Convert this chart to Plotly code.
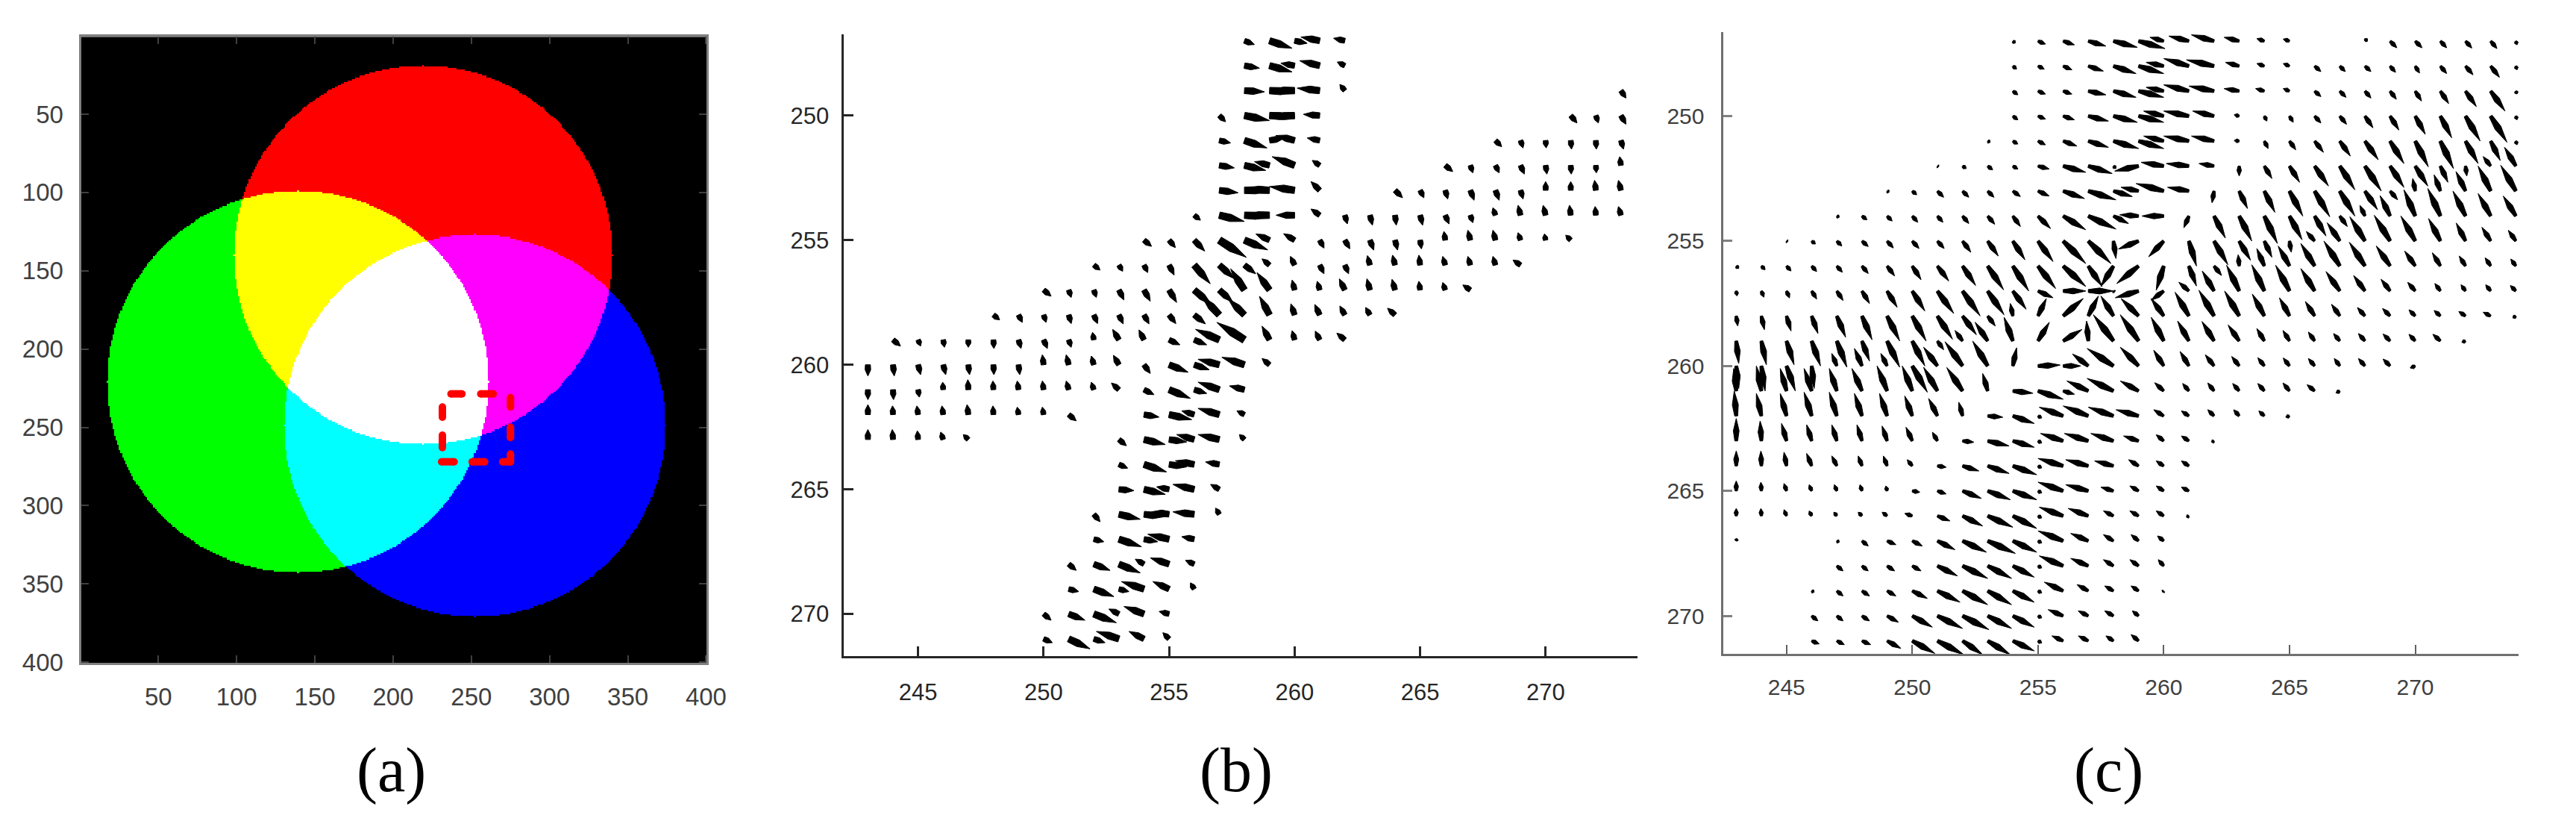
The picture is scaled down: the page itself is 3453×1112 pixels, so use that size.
import numpy as np
import plotly.graph_objects as go

W, H = 3453, 1112

# panel (a): three discs on a 400x400 image, (col, row, radius)
red_disc = [219, 140, 121]
green_disc = [139, 221, 122]
blue_disc = [252, 249, 122]
a_ticks = [50, 100, 150, 200, 250, 300, 350, 400]

# dashed red box of panel (a), one [x0, y0, x1, y1] per dash
box_dashes = [
    [237, 228.6, 244, 228.6], [256, 228.6, 264, 228.6],
    [231, 272, 239, 272], [250.5, 272, 258.5, 272], [270, 272, 275, 272],
    [231.5, 237, 231.5, 243.5], [231.5, 255, 231.5, 263],
    [275, 231, 275, 237], [275, 250, 275, 256.5], [275, 267, 275, 272],
]

# panel (b): row y, first column, then (u, v) per column
b_y = [247, 248, 249, 249, 250, 250, 251, 251, 252, 252, 253, 253, 254, 255, 256, 257, 258, 259, 260, 261,
       262, 262, 263, 263, 264, 265, 266, 267, 268, 269, 270, 271]
b_x0 = [258, 258, 258, 273, 257, 271, 257, 268, 257, 266, 257, 264, 256, 254, 252, 250, 248, 244, 243, 243,
        243, 254, 243, 253, 253, 253, 252, 252, 251, 251, 250, 250]
b_uv = [
    [(.4, .15), (.9, .3), (.5, .1), (-.75, -.15), (-.45, -.1)],
    [(.6, .1), (.9, .25), (-.55, -.1), (-.8, -.2), (-.3, -.15)],
    [(.8, .05), (1, .05), (-1, 0), (-.9, -.1), (-.2, -.25)],
    [(.2, .3)],
    [(.25, .25), (1, .2), (1, .05), (-1, .05), (-.65, -.05)],
    [(.25, .3), (.1, .3), (.2, .35)],
    [(.45, .1), (.9, .3), (.6, -.1), (-.75, -.2), (-.5, -.1)],
    [(.25, .25), (.1, .3), (.02, .3), (.03, .35), (.02, .35), (.1, .35)],
    [(.6, .1), (.85, .2), (-.6, -.15), (-.9, -.35), (-.3, -.2)],
    [(.3, .25), (.1, .3), (.15, .3), (.15, .35), (.05, .35), (.02, .35), (.02, .3), (-.05, -.35)],
    [(.75, .1), (1, 0), (-1, -.05), (-1, -.15), (-.35, -.35)],
    [(.3, .3), (.15, .3), (.1, .35), (.15, .4), (.15, .4), (.1, .35), (0, -.35), (0, -.35), (-.05, -.4), (-.1, -.4)],
    [(.25, .2), (1, .25), (1, .05), (-1, 0), (-.74, 0), (-.35, -.25), (.1, .35), (.1, .4), (.05, .4), (.1, .4),
     (.15, .35), (.1, .3), (-.1, -.3), (-.1, -.4), (-.1, -.4), (-.05, -.4), (-.03, -.35), (-.1, -.35)],
    [(.3, .25), (.25, .3), (.42, .44), (1.08, .69), (.93, .39), (-.55, -.25), (-.44, -.26), (.17, .32), (.2, .35),
     (.15, .4), (.1, .4), (.05, .35), (-.05, -.35), (-.1, -.4), (-.1, -.4), (-.1, -.3), (-.05, -.25), (-.2, -.2)],
    [(.25, .2), (.15, .25), (.15, .3), (.2, .4), (.64, .75), (.6, .55), (.45, .35), (-.3, -.25), (-.17, -.35),
     (.17, .35), (.15, .35), (-.1, -.38), (-.1, -.4), (-.05, -.4), (-.1, -.35), (-.1, -.35), (-.1, -.35), (-.3, -.2)],
    [(.3, .25), (.1, .3), (.1, .3), (.2, .4), (.25, .45), (.3, .5), (.7, .6), (.55, .5), (-.55, -.85), (-.5, -.7),
     (-.1, -.4), (-.1, -.35), (-.22, -.45), (-.12, -.45), (-.12, -.43), (-.05, -.35), (-.1, -.3), (-.3, -.2)],
    [(.25, .2), (.15, .3), (.1, .3), (.1, .35), (.15, .35), (.17, .36), (.2, .36), (.27, .35), (.45, .36), (-.7, -.75),
     (-.65, -.65), (-.4, -.75), (-.15, -.45), (-.2, -.42), (-.2, -.36), (-.17, -.3), (-.3, -.27)],
    [(.3, .25), (.1, .25), (.05, .3), (0, .3), (.02, .35), (.1, .35), (.15, .35), (.1, .3), (-.05, -.3), (-.25, -.42),
     (-.2, -.4), (.43, .2), (.5, .2), (-.95, -.42), (-1.1, -.7), (-.3, -.55), (-.1, -.37), (-.18, -.35), (-.32, -.27)],
    [(0, .45), (.05, .45), (.1, .4), (.1, .4), (.05, .4), (.02, .4), (.05, .4), (-.05, -.4), (-.1, -.4), (-.1, -.35),
     (-.22, -.38), (.25, .35), (.76, .3), (.6, .2), (-.85, -.22), (-.9, -.3), (-.3, -.25)],
    [(0, .4), (.02, .4), (.05, .3), (-.02, -.3), (-.02, -.4), (-.02, -.35), (-.05, -.35), (-.05, -.35), (-.1, -.35),
     (-.1, -.3), (-.3, -.27), (.4, .2), (.85, .35), (.5, .15), (-.85, -.3), (-.6, -.15)],
    [(0, -.4), (-.02, -.35), (-.05, -.35), (-.05, -.35), (-.05, -.4), (-.02, -.35), (-.05, -.3), (-.05, -.3), (.3, .25)],
    [(.6, .1), (.9, .2), (-.5, -.15), (-.85, -.25), (-.3, -.15)],
    [(0, -.4), (-.03, -.4), (-.03, -.35), (-.1, -.3), (-.2, -.2)],
    [(.3, .25), (.85, .2), (.7, .1), (-.7, -.2), (-.85, -.2), (-.2, -.2)],
    [(.35, .15), (.9, .3), (.7, .1), (-.75, -.15), (-.55, -.1)],
    [(.6, .05), (.85, .2), (-.5, -.1), (-.85, -.2), (-.35, -.2)],
    [(.25, .3), (.85, .2), (.8, .1), (-.7, -.1), (-.85, -.1), (-.15, -.25)],
    [(.4, .1), (.9, .3), (.55, .1), (-.85, -.2), (-.5, -.1)],
    [(.3, .25), (.65, .25), (.85, .35), (-.35, -.2), (-.75, -.25), (-.35, -.15)],
    [(.4, .1), (.8, .3), (.4, .1), (-.9, -.3), (-.65, -.3), (-.15, -.25)],
    [(.3, .25), (.65, .25), (.9, .35), (-.4, -.2), (-.8, -.3), (-.4, -.1)],
    [(.35, .15), (.85, .4), (.45, .15), (-.9, -.3), (-.6, -.3), (-.25, -.25)],
]

# panel (c): same layout as (b)
c_y = [247, 247, 248, 249, 250, 251, 252, 253, 254, 255, 256, 257, 258, 259, 260, 261, 262, 263, 264, 265, 266,
       267, 267, 268, 269, 270, 271]
c_x0 = [254, 268, 254, 254, 254, 253, 251, 249, 247, 245, 243, 243, 243, 243, 243, 243, 243, 243, 243, 243, 243,
        243, 247, 247, 246, 246, 246]
c_uv = [
    [(.1, .08), (.3, .12), (.45, .15), (.7, .2), (.95, .25), (1.05, .3), (-.55, -.15), (-.8, -.2), (-.9, -.25),
     (-.6, -.15), (-.3, -.1), (-.25, -.08)],
    [(.1, -.1), (.27, .27), (.27, .27), (.25, .27), (.25, .28), (.25, .3), (.05, .15)],
    [(.15, .12), (.25, .12), (.35, .15), (.6, .2), (.9, .3), (1, .3), (-.7, -.15), (-1, -.3), (-1.1, -.25), (-.55, -.15),
     (-.3, -.1), (-.25, -.1), (.25, .22), (.22, .22), (.24, .22), (.22, .25), (.17, .28), (.25, .3), (.3, .35),
     (.35, .45), (.05, .15)],
    [(.2, .15), (.3, .12), (.35, .12), (.7, .15), (.9, .25), (1, .25), (-.7, -.15), (-1, -.25), (-1, -.2), (-.6, -.1),
     (-.35, -.1), (-.25, -.1), (.25, .22), (.25, .25), (.24, .28), (.25, .33), (.25, .4), (.33, .5), (.43, .62),
     (.57, .8), (.05, .12)],
    [(.2, .15), (.3, .12), (.45, .15), (.8, .2), (.95, .25), (1, .25), (-.8, -.2), (-1, -.2), (-.85, -.2), (-.2, -.05),
     (.1, .2), (.15, .25), (.25, .28), (.27, .33), (.32, .47), (.35, .56), (.4, .73), (.45, .87), (.58, 1), (.65, 1.05),
     (.05, .15)],
    [(.1, .05), (.2, .12), (.3, .15), (.55, .2), (.8, .25), (1, .3), (1, .3), (-.8, -.2), (-1, -.2), (-.9, -.2),
     (-.2, -.02), (.15, .3), (.25, .35), (.35, .45), (.42, .6), (.53, .75), (.55, .9), (.52, 1.03), (.52, 1.1),
     (.5, .9), (.38, .78), (.05, .15)],
    [(.05, .03), (.15, .1), (.2, .15), (.2, .12), (.45, .12), (.9, .25), (.95, .3), (.1, .1), (-.95, .2), (-.9, -.15),
     (-.9, -.1), (-.6, -.1), (0, .4), (.3, .5), (.4, .65), (.55, .8), (.6, .95), (.65, 1), (.55, .85), (.5, .8),
     (.3, .65), (.05, .4), (-.3, -.38), (-.45, -.75)],
    [(.08, .05), (.18, .15), (.25, .25), (.25, .25), (.25, .25), (.3, .22), (.45, .2), (.85, .3), (1.1, .35), (.75, .22),
     (-.7, -.15), (-1.1, -.3), (-.85, -.15), (-.08, .47), (.33, .7), (.42, .85), (.53, 1), (.6, 1.03), (.6, 1), (.5, .75),
     (.3, .35), (-.1, -.5), (-.25, -.65), (-.38, -.78), (-.5, -1), (-.6, -1.03)],
    [(.1, .05), (.2, .15), (.2, .2), (.22, .25), (.22, .25), (.25, .3), (.28, .33), (.3, .42), (.5, .5), (.9, .55),
     (1.1, .52), (.6, .3), (-.75, -.05), (-.87, 0), (-.2, .47), (.45, .88), (.5, 1), (.52, 1.1), (.5, .95), (.45, .8),
     (.3, .42), (-.2, -.43), (-.4, -.82), (-.45, -1.05), (-.5, -1.1), (-.5, -1), (-.5, -.9), (-.5, -.8)],
    [(.05, .03), (.15, .12), (.2, .2), (.25, .22), (.25, .28), (.27, .3), (.27, .3), (.33, .45), (.42, .6), (.48, .75),
     (.6, .82), (.9, .9), (.9, .9), (.1, .7), (-.8, .32), (-.6, .63), (.3, 1), (.55, .95), (.45, .77), (.3, .65),
     (.07, .45), (-.33, -.38), (-.5, -.73), (-.6, -.97), (-.63, -1.03), (-.57, -1), (-.47, -.9), (-.37, -.72),
     (-.35, -.55), (-.3, -.43)],
    [(.1, .1), (.15, .15), (.18, .2), (.2, .22), (.22, .25), (.25, .3), (.3, .4), (.35, .55), (.45, .6), (.52, .78),
     (.63, .95), (.63, 1), (.7, .9), (.9, .82), (.55, .82), (-.5, .82), (-.87, .7), (-.3, .97), (.3, .8), (.3, .38),
     (-.04, -.45), (-.3, -.7), (-.45, -.8), (-.55, -.9), (-.63, -1), (-.62, -.95), (-.55, -.8), (-.42, -.6), (-.32, -.53),
     (-.25, -.4), (-.22, -.33), (-.2, -.28)],
    [(.03, .2), (.1, .25), (.12, .28), (.2, .32), (.25, .38), (.3, .5), (.4, .65), (.5, .8), (.65, .9), (.7, 1), (.65, .95),
     (.53, .73), (.6, .27), (.9, 0), (1, 0), (.05, .05), (-.93, .27), (-.5, .37), (-.4, -.35), (-.47, -.8), (-.5, -1.03),
     (-.5, -1.05), (-.55, -1.03), (-.55, -.9), (-.55, -.78), (-.45, -.62), (-.36, -.47), (-.3, -.35), (-.22, -.3),
     (-.18, -.25), (-.2, -.25), (-.22, -.22)],
    [(.06, .4), (.12, .55), (.18, .6), (.25, .7), (.35, .85), (.4, .95), (.5, 1), (.55, 1), (.6, .93), (.55, .75), (.3, .4),
     (-.1, -.5), (.33, -.7), (.8, -.7), (.4, -.8), (-.5, -.8), (-.7, -.7), (-.5, -.7), (-.55, -.95), (-.6, -1.03),
     (-.58, -1), (-.48, -.88), (-.4, -.73), (-.37, -.58), (-.33, -.47), (-.3, -.34), (-.3, -.3), (-.25, -.25), (-.25, -.22),
     (-.27, -.18), (-.3, -.15), (-.12, .08)],
    [(.1, .9), (.2, .95), (.3, .95), (.35, 1), (.4, 1.05), (.3, .8), (.5, 1.05), (.5, 1), (.25, .35), (-.3, -.42), (-.5, -.75),
     (-.35, -.95), (.45, -.75), (.75, -.46), (-.07, -.8), (-.8, -1.05), (-.73, -1.05), (-.5, -.95), (-.45, -.8), (-.48, -.78),
     (-.44, -.64), (-.3, -.5), (-.26, -.42), (-.25, -.36), (-.25, -.3), (-.26, -.3), (-.28, -.28), (-.25, -.27), (-.3, -.27),
     (-.15, .05)],
    [(.1, .9), (.15, 1), (.35, 1), (.1, .9), (-.2, -.5), (-.3, -.7), (-.25, -.5), (.6, 1.05), (-.55, -.75), (-.7, -.97), (-.6, -1),
     (.15, -.73), (.88, -.04), (.7, 0), (-.63, -.48), (-1.05, -.7), (-.73, -.75), (-.4, -.63), (-.35, -.58), (-.35, -.45),
     (-.3, -.38), (-.26, -.33), (-.25, -.32), (-.25, -.3), (-.22, -.3), (-.26, -.3), (-.28, -.28), (-.2, .08)],
    [(-.1, -.9), (-.2, -1), (-.25, -.9), (-.3, -.9), (-.3, -.9), (-.4, -.9), (-.4, -1), (-.4, -1), (-.55, -.95), (-.63, -.94),
     (-.2, -.7), (.8, .09), (1, .33), (.45, .13), (-.85, -.4), (-1.05, -.5), (-.73, -.4), (-.36, -.33), (-.25, -.3), (-.25, -.32),
     (-.26, -.3), (-.26, -.3), (-.26, -.32), (-.3, -.25), (-.15, .08)],
    [(-.08, -1), (-.2, -.9), (-.25, -.9), (-.3, -.95), (-.3, -.95), (-.3, -.9), (-.3, -.9), (-.3, -.8), (-.35, -.7), (-.15, -.55),
     (.6, .05), (.85, .3), (.15, .08), (-.95, -.35), (-1, -.4), (-1, -.35), (-.9, -.25), (-.4, -.25), (-.3, -.2), (-.25, -.25),
     (-.22, -.25), (-.22, -.2), (-.15, .05)],
    [(0, -.9), (-.05, -.8), (-.2, -.7), (-.2, -.65), (-.2, -.65), (-.2, -.65), (-.2, -.6), (-.25, -.55), (-.2, -.35), (.45, .05),
     (.85, .2), (.85, .25), (.15, .08), (-.9, -.3), (-.95, -.3), (-.9, -.3), (-.6, -.2), (-.3, -.25), (-.3, -.2), (-.1, .05)],
    [(0, -.6), (-.02, -.6), (-.1, -.55), (-.2, -.5), (-.2, -.4), (-.15, -.4), (-.15, -.4), (-.2, -.25), (.35, .05), (.65, .2),
     (.85, .3), (.95, .35), (.15, .08), (-1, -.3), (-.9, -.25), (-.75, -.2), (-.4, -.25), (-.3, -.2), (-.3, -.2)],
    [(0, -.4), (-.02, -.35), (-.1, -.3), (-.1, -.25), (-.1, -.25), (-.08, -.25), (-.05, -.2), (.3, .05), (.35, .12), (.75, .3),
     (.9, .35), (.95, .35), (.15, .08), (-1, -.35), (-.9, -.25), (-.5, -.15), (-.35, -.2), (-.3, -.2), (-.3, -.15)],
    [(0, -.3), (-.02, -.3), (-.1, -.25), (-.1, -.2), (-.12, -.15), (-.15, -.15), (-.2, -.15), (-.3, -.1), (.5, .2), (.8, .4),
     (1, .45), (.95, .5), (.15, .08), (-.95, -.35), (-.8, -.3), (-.4, -.2), (-.35, -.2), (-.3, -.2), (-.1, .05)],
    [(.03, -.1)],
    [(.1, .05), (.25, .2), (.35, .15), (.4, .2), (.7, .35), (.95, .45), (1.1, .5), (.95, .45), (.15, .08), (-1, -.4), (-.7, -.3),
     (-.4, -.25), (-.3, -.25), (-.25, -.2)],
    [(.25, .2), (.25, .2), (.3, .2), (.35, .2), (.8, .4), (1, .5), (.95, .5), (.85, .45), (.15, .08), (-.95, -.4), (-.7, -.3),
     (-.4, -.25), (-.35, -.25), (-.22, -.25)],
    [(.1, .05), (.25, .2), (.3, .2), (.35, .2), (.6, .3), (.9, .45), (1, .55), (.95, .55), (.85, .45), (.15, .08), (-.75, -.35),
     (-.45, -.25), (-.35, -.2), (-.3, -.2), (-.05, .05)],
    [(.25, .2), (.25, .2), (.3, .2), (.45, .25), (.8, .45), (1, .5), (1.05, .55), (.95, .5), (.85, .45), (.15, .08), (-.6, -.25),
     (-.4, -.2), (-.35, -.2), (-.25, -.2)],
    [(.3, .12), (.3, .15), (.35, .15), (.55, .3), (.9, .5), (1.05, .55), (.8, .55), (.9, .55), (.85, .4), (.15, .08), (-.45, -.2),
     (-.4, -.2), (-.3, -.2), (-.3, -.25)],
]

b_ticks_x = [245, 250, 255, 260, 265, 270]
b_ticks_y = [250, 255, 260, 265, 270]


def arrows(ys, x0s, rows, base, belly, hw0, hw1):
    # each arrow is a closed wedge from its grid point to its tip
    px, py = [], []
    for y0, x0, row in zip(ys, x0s, rows):
        for i, (u, v) in enumerate(row):
            x = x0 + i
            length = max(np.hypot(u, v), 1e-6)
            nx, ny = -v / length, u / length
            hw = hw0 + hw1 * length
            for t, s in [(0, base), (0.45, belly), (1, 0), (0.45, -belly), (0, -base), (0, base)]:
                px.append(x + t * u + s * hw * nx)
                py.append(y0 + t * v + s * hw * ny)
            px.append(None)
            py.append(None)
    return px, py


def disc(rows, cols, c):
    return (cols - c[0]) ** 2 + (rows - c[1]) ** 2 <= c[2] ** 2


rr, cc = np.mgrid[1:401, 1:401]
img = np.zeros((400, 400, 3), dtype=np.uint8)
img[..., 0] = disc(rr, cc, red_disc) * 255
img[..., 1] = disc(rr, cc, green_disc) * 255
img[..., 2] = disc(rr, cc, blue_disc) * 255

box_x, box_y = [], []
for x0, y0, x1, y1 in box_dashes:
    box_x += [x0, x1, None]
    box_y += [y0, y1, None]

fig = go.Figure()
fig.add_trace(go.Image(z=img, x0=1, dx=1, y0=1, dy=1, xaxis="x", yaxis="y", hoverinfo="skip"))
fig.add_trace(go.Scatter(x=box_x, y=box_y, mode="lines+markers", xaxis="x", yaxis="y",
                         line=dict(color="#ff0000", width=10), marker=dict(color="#ff0000", size=10)))

bx, by = arrows(b_y, b_x0, b_uv, 0.9, 1.0, 0.085, 0.06)
fig.add_trace(go.Scatter(x=bx, y=by, mode="lines", fill="toself", fillcolor="black", xaxis="x2", yaxis="y2",
                         line=dict(color="black", width=1), hoverinfo="skip"))
cx, cy = arrows(c_y, c_x0, c_uv, 0.5, 1.0, 0.07, 0.05)
fig.add_trace(go.Scatter(x=cx, y=cy, mode="lines", fill="toself", fillcolor="black", xaxis="x3", yaxis="y3",
                         line=dict(color="black", width=1), hoverinfo="skip"))


def dom(p0, p1, size):
    return [p0 / size, p1 / size]


def ydom(top, bottom):
    return [1 - bottom / H, 1 - top / H]


sans = "Liberation Sans"
fig.update_layout(
    width=W, height=H, autosize=False, showlegend=False,
    margin=dict(l=0, r=0, t=0, b=0), paper_bgcolor="white", plot_bgcolor="white",
    xaxis=dict(domain=dom(107, 957, W), range=[0.5, 400.5], tickvals=a_ticks, ticks="inside", ticklen=10, tickwidth=2,
               tickcolor="#404040", showline=True, linecolor="#808080", linewidth=3, mirror="ticks", showgrid=False,
               zeroline=False, tickfont=dict(family=sans, size=33, color="#404040"), ticklabelstandoff=14, anchor="y"),
    yaxis=dict(domain=ydom(50, 902), range=[400.5, 0.5], tickvals=a_ticks, ticks="inside", ticklen=10, tickwidth=2,
               tickcolor="#404040", showline=True, linecolor="#808080", linewidth=3, mirror="ticks", showgrid=False,
               zeroline=False, tickfont=dict(family=sans, size=33, color="#404040"), ticklabelstandoff=14, anchor="x"),
    xaxis2=dict(domain=dom(1140, 2212, W), range=[242.05, 273.67], tickvals=b_ticks_x, ticks="inside", ticklen=13, tickwidth=3,
                tickcolor="#262626", showline=True, linecolor="#262626", linewidth=3, showgrid=False, zeroline=False,
                tickfont=dict(family=sans, size=31, color="#262626"), ticklabelstandoff=18, anchor="y2"),
    yaxis2=dict(domain=ydom(47, 893), range=[271.7, 246.75], tickvals=b_ticks_y, ticks="inside", ticklen=13, tickwidth=3,
                tickcolor="#262626", showline=True, linecolor="#262626", linewidth=3, showgrid=False, zeroline=False,
                tickfont=dict(family=sans, size=31, color="#262626"), ticklabelstandoff=11, anchor="x2"),
    xaxis3=dict(domain=dom(2328, 3402, W), range=[242.5, 274.12], tickvals=b_ticks_x, ticks="inside", ticklen=12, tickwidth=2,
                tickcolor="#606060", showline=True, linecolor="#707070", linewidth=3, showgrid=False, zeroline=False,
                tickfont=dict(family=sans, size=30, color="#404040"), ticklabelstandoff=16, anchor="y3"),
    yaxis3=dict(domain=ydom(44, 890), range=[271.53, 246.65], tickvals=b_ticks_y, ticks="inside", ticklen=12, tickwidth=3,
                tickcolor="#808080", showline=True, linecolor="#707070", linewidth=3, showgrid=False, zeroline=False,
                tickfont=dict(family=sans, size=30, color="#404040"), ticklabelstandoff=17, anchor="x3"),
)

for text, px in zip(["(a)", "(b)", "(c)"], [528, 1670, 2848]):
    fig.add_annotation(text=text, x=px / W, y=1 - 1048 / H, xref="paper", yref="paper", showarrow=False,
                       xanchor="center", yanchor="middle",
                       font=dict(family="Liberation Serif", size=84, color="black"))

fig.write_html("out.html", config={"displayModeBar": False}, post_script="document.body.style.margin='0';")
